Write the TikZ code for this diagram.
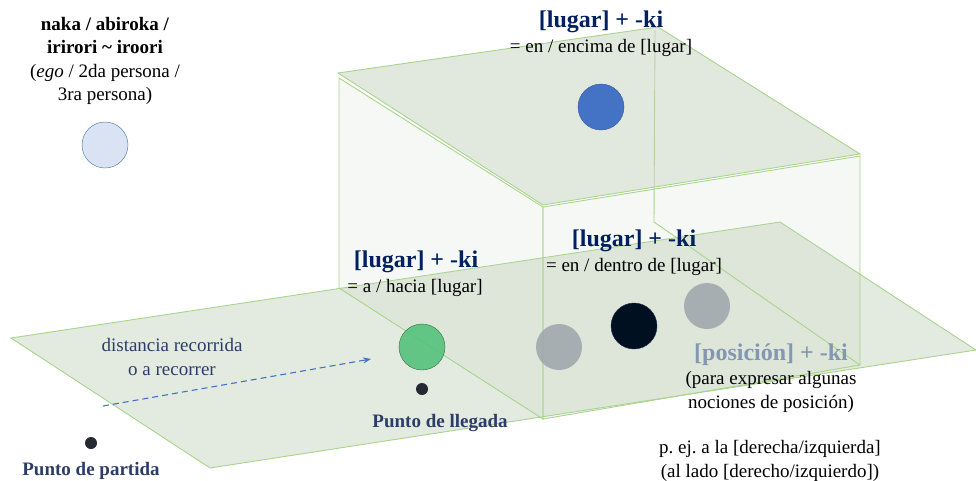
\documentclass[tikz,border=0pt]{standalone}
\usepackage{fontspec}
\setmainfont{Liberation Serif}
\usetikzlibrary{arrows.meta,positioning}
\frenchspacing

\definecolor{navy}{RGB}{0,32,96}
\definecolor{slate}{RGB}{44,62,104}
\definecolor{posgray}{RGB}{132,151,176}
\definecolor{planeedge}{RGB}{169,212,140}
\definecolor{groundfill}{RGB}{227,234,223}
\definecolor{facefill}{RGB}{196,210,190}
\definecolor{egofill}{RGB}{218,227,243}
\definecolor{egoedge}{RGB}{65,113,156}
\definecolor{bluefill}{RGB}{68,114,196}
\definecolor{greenfill}{RGB}{84,194,124}
\definecolor{greenedge}{RGB}{52,110,64}
\definecolor{grayfill}{RGB}{158,165,170}
\definecolor{blackfill}{RGB}{0,16,32}
\definecolor{dotfill}{RGB}{38,40,50}

\begin{document}
\begin{tikzpicture}[x=1pt,y=-1pt,>=Stealth,
  every node/.style={font=\rmfamily\fontsize{19}{23.3}\selectfont},
  bigfont/.style={font=\rmfamily\fontsize{24}{28}\selectfont\bfseries},
  edge/.style={draw=planeedge,line width=0.9pt},
  sideface/.style={edge,fill=facefill,fill opacity=0.15},
  topface/.style={edge,fill=facefill,fill opacity=0.5},
  ball/.style={circle,inner sep=0pt,minimum size=46},
  dot/.style={circle,inner sep=0pt,minimum size=12,fill=dotfill}]
  \useasboundingbox (0,0) rectangle (976,480);

  % ground plane
  \filldraw[edge,fill=groundfill] (11,338) -- (780,222) -- (976,350)
    -- (210,468) -- cycle;

  % transparent box
  \filldraw[sideface] (339,78) -- (543,207) -- (543,419) -- (339,288) -- cycle;
  \filldraw[sideface] (543,207) -- (860,156) -- (860,365) -- (543,419) -- cycle;
  \draw[edge] (655,30) -- (654,222) -- (860,365);
  \filldraw[topface] (338,73) -- (658,27) -- (860,154) -- (543,205) -- cycle;

  % balls
  \node[ball,draw=egoedge,fill=egofill] (ego) at (105,145) {};
  \node[ball,draw=bluefill!80!black,fill=bluefill] (encima) at (601,107) {};
  \node[ball,draw=greenedge,fill=greenfill,fill opacity=0.9] (hacia) at (422,347) {};
  \node[ball,fill=grayfill,fill opacity=0.85] (posleft) at (559,347) {};
  \node[ball,draw=bluefill!40!black,fill=blackfill] (dentro) at (634,326) {};
  \node[ball,fill=grayfill,fill opacity=0.85] (posright) at (707,306) {};

  % points and path
  \node[dot] (partida) at (91,443) {};
  \node[dot] (llegada) at (422,389) {};
  \coordinate (pathstart) at (103,406);
  \coordinate (pathend) at (371,359);
  \draw[->,bluefill,line width=1.1pt,dash pattern=on 6pt off 4pt]
    (pathstart) -- (pathend);

  % labels
  \node[align=center] (egolbl) at (105,61)
    {\textbf{naka / abiroka /}\\\textbf{irirori \textasciitilde{} iroori}\\
     (\textit{ego} / 2da persona /\\3ra persona)};
  \node[bigfont,navy] (encimatitle) at (601,22) {[lugar] + -ki};
  \node (encimasub) at (601,48) {= en / encima de [lugar]};
  \node[bigfont,navy] (haciatitle) at (416,262) {[lugar] + -ki};
  \node (haciasub) at (415,288) {= a / hacia [lugar]};
  \node[bigfont,navy] (dentrotitle) at (634,241) {[lugar] + -ki};
  \node (dentrosub) at (634,267) {= en / dentro de [lugar]};
  \node[bigfont,posgray] (postitle) at (771,355) {[posición] + -ki};
  \node[align=center] (posdesc) at (771,392)
    {(para expresar algunas\\nociones de posición)};
  \node[align=center] (posexample) at (770,461)
    {p. ej. a la [derecha/izquierda]\\(al lado [derecho/izquierdo])};
  \node[align=center,slate] (distlbl) at (172,357)
    {distancia recorrida\\o a recorrer};
  \node[font=\rmfamily\fontsize{19}{23}\selectfont\bfseries,slate] (llegadalbl)
    at (440,423) {Punto de llegada};
  \node[font=\rmfamily\fontsize{19}{23}\selectfont\bfseries,slate] (partidalbl)
    at (91,471) {Punto de partida};
\end{tikzpicture}
\end{document}
